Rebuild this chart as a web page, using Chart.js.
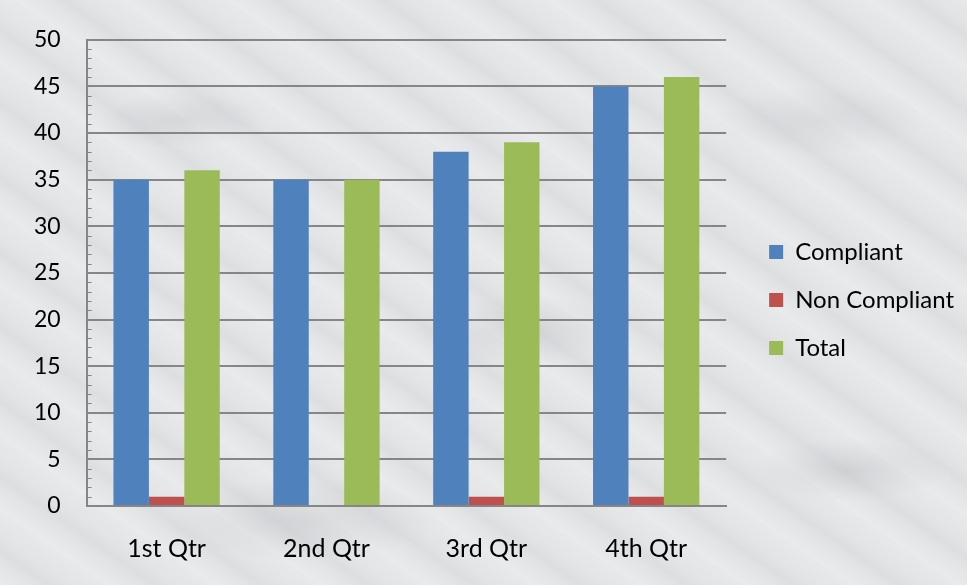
<!DOCTYPE html>
<html>
<head>
<meta charset="utf-8">
<script src="https://cdn.jsdelivr.net/npm/chart.js@4.4.1/dist/chart.umd.min.js"></script>
<style>
  html, body { margin: 0; padding: 0; }
  body {
    width: 967px; height: 585px; overflow: hidden;
    background-color: #e2e4e6;
    background-image:
      radial-gradient(ellipse 120px 40px at 180px 120px, rgba(140,140,145,0.18), rgba(255,255,255,0) 70%),
      radial-gradient(ellipse 160px 50px at 520px 330px, rgba(140,140,145,0.16), rgba(255,255,255,0) 70%),
      radial-gradient(ellipse 140px 45px at 850px 470px, rgba(140,140,145,0.18), rgba(255,255,255,0) 70%),
      radial-gradient(ellipse 200px 60px at 300px 520px, rgba(130,130,135,0.15), rgba(255,255,255,0) 70%),
      radial-gradient(ellipse 150px 50px at 820px 120px, rgba(140,140,145,0.14), rgba(255,255,255,0) 70%),
      repeating-linear-gradient(35deg, rgba(255,255,255,0.25) 0px, rgba(255,255,255,0) 18px, rgba(150,150,155,0.08) 28px, rgba(255,255,255,0) 40px, rgba(255,255,255,0.18) 61px);
  }
  #wrap { position: absolute; left: 0; top: 0; width: 967px; height: 585px; }
</style>
</head>
<body>
<div id="wrap"><canvas id="c" width="967" height="585"></canvas></div>
<script>
const categories = ["1st Qtr", "2nd Qtr", "3rd Qtr", "4th Qtr"];
const compliant = [35, 35, 38, 45];
const nonCompliant = [1, 0, 1, 1];
const total = [36, 35, 39, 46];
const seriesNames = ["Compliant", "Non Compliant", "Total"];
const yMin = 0, yMax = 50, yMajor = 5;

const FONT = "Lato, 'Open Sans', sans-serif";
const GRID = "#868686";
const Y_FONT = 23;
const X_FONT = 25;
const LEGEND_FONT = 24;
const LEGEND_SHIFT_X = 19;
const LEGEND_SHIFT_Y = -10;

const minorTicks = {
  id: "minorTicks",
  afterDatasetsDraw(chart) {
    const y = chart.scales.y;
    const ctx = chart.ctx;
    ctx.save();
    ctx.strokeStyle = GRID;
    ctx.lineWidth = 1;
    for (let v = yMin; v <= yMax; v++) {
      if (v % yMajor === 0) continue;
      const py = Math.round(y.getPixelForValue(v)) + 0.5;
      ctx.beginPath();
      ctx.moveTo(y.right, py);
      ctx.lineTo(y.right + 5, py);
      ctx.stroke();
    }
    ctx.restore();
  }
};

const legendShift = {
  id: "legendShift",
  afterLayout(chart) {
    const lg = chart.legend;
    if (!lg) return;
    lg.left += LEGEND_SHIFT_X; lg.right += LEGEND_SHIFT_X;
    lg.top += LEGEND_SHIFT_Y; lg.bottom += LEGEND_SHIFT_Y;
  }
};

new Chart(document.getElementById("c"), {
  type: "bar",
  data: {
    labels: categories,
    datasets: [
      { label: seriesNames[0], data: compliant, backgroundColor: "#4F81BD" },
      { label: seriesNames[1], data: nonCompliant, backgroundColor: "#C0504D" },
      { label: seriesNames[2], data: total, backgroundColor: "#9BBB59" }
    ]
  },
  options: {
    responsive: false,
    animation: false,
    devicePixelRatio: 1,
    layout: { padding: { top: 28, left: 8, right: 22, bottom: -7 } },
    datasets: { bar: { categoryPercentage: 0.665, barPercentage: 1.0 } },
    plugins: {
      tooltip: { enabled: false },
      legend: {
        position: "right",
        labels: {
          font: { family: FONT, size: LEGEND_FONT },
          color: "#000",
          boxWidth: 14,
          boxHeight: 14,
          padding: 24
        }
      }
    },
    scales: {
      x: {
        grid: { display: false, drawTicks: false },
        border: { display: true, color: GRID, width: 2 },
        ticks: { font: { family: FONT, size: X_FONT }, color: "#000", padding: 28 }
      },
      y: {
        min: yMin,
        max: yMax,
        border: { display: true, color: GRID, width: 2 },
        grid: {
          drawTicks: false,
          lineWidth: 2,
          color: (c) => (c.tick && c.tick.value % yMajor === 0) ? GRID : "rgba(0,0,0,0)"
        },
        ticks: {
          stepSize: 1,
          autoSkip: false,
          padding: 26,
          font: { family: FONT, size: Y_FONT },
          color: "#000",
          callback: (v) => (v % yMajor === 0 ? String(v) : "")
        }
      }
    }
  },
  plugins: [minorTicks, legendShift]
});
</script>
</body>
</html>
